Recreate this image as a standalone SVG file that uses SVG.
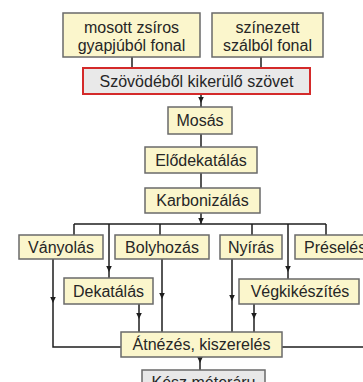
<svg xmlns="http://www.w3.org/2000/svg" xmlns:xlink="http://www.w3.org/1999/xlink" width="363" height="382" viewBox="0 0 363 382">
<style>
.box{fill:#fbf6cc;stroke:#6a6a6a;stroke-width:1.5}
.grey{fill:#e8e8e8;stroke:#6a6a6a;stroke-width:1.5}
.red{fill:#e9e9e9;stroke:#d42a2a;stroke-width:2}
text{font-family:"Liberation Sans",Arial,sans-serif;font-size:16px;fill:#262626;text-anchor:middle}
.con line,.con polyline{stroke:#1e1e1e;stroke-width:1.5;fill:none}
.ah{fill:#1e1e1e}
</style>
<defs>
<path id="ah" d="M-2.8,-6 L2.8,-6 L0,0 Z"/>
</defs>
<rect width="363" height="382" fill="#ffffff"/>
<g class="con" id="connectors">
<line x1="132" y1="57" x2="132" y2="68"/>
<line x1="261" y1="57" x2="261" y2="68"/>
<line x1="201" y1="94" x2="201" y2="107"/>
<line x1="201" y1="134" x2="201" y2="147"/>
<line x1="201" y1="173" x2="201" y2="188"/>
<line x1="201" y1="213" x2="201" y2="224"/>
<line x1="74" y1="224" x2="326" y2="224"/>
<line x1="74" y1="224" x2="74" y2="235"/>
<line x1="109" y1="224" x2="109" y2="278"/>
<line x1="160" y1="224" x2="160" y2="235"/>
<line x1="252" y1="224" x2="252" y2="235"/>
<line x1="288" y1="224" x2="288" y2="279"/>
<line x1="326" y1="224" x2="326" y2="235"/>
<polyline points="53,259 53,347 121,347"/>
<line x1="162" y1="259" x2="162" y2="332"/>
<line x1="139" y1="304" x2="139" y2="332"/>
<line x1="232" y1="259" x2="232" y2="332"/>
<line x1="254" y1="304" x2="254" y2="332"/>
<line x1="282" y1="347" x2="363" y2="347"/>
<line x1="200" y1="357" x2="200" y2="370"/>
<use xlink:href="#ah" class="ah" x="201" y="103"/>
<use xlink:href="#ah" class="ah" x="201" y="224"/>
<use xlink:href="#ah" class="ah" x="109" y="272"/>
<use xlink:href="#ah" class="ah" x="288" y="272"/>
<use xlink:href="#ah" class="ah" x="53" y="303"/>
<use xlink:href="#ah" class="ah" x="162" y="299"/>
<use xlink:href="#ah" class="ah" x="232" y="301"/>
<use xlink:href="#ah" class="ah" x="139" y="319"/>
<use xlink:href="#ah" class="ah" x="254" y="319"/>
<use xlink:href="#ah" class="ah" x="200" y="363"/>
</g>
<g id="n-fonal1"><rect class="box" x="63" y="13" width="137" height="44"/><text x="131.5" y="33">mosott zsíros</text><text x="131.5" y="51">gyapjúból fonal</text></g>
<g id="n-fonal2"><rect class="box" x="212" y="13" width="111" height="44"/><text x="267.5" y="33">színezett</text><text x="267.5" y="51">szálból fonal</text></g>
<g id="n-szovet"><rect class="red" x="83" y="68" width="227" height="26"/><text x="196.5" y="86.5">Szövödéből kikerülő szövet</text></g>
<g id="n-mosas"><rect class="box" x="168" y="107" width="64" height="27"/><text x="200" y="126">Mosás</text></g>
<g id="n-elodekatalas"><rect class="box" x="145" y="147" width="112" height="26"/><text x="201" y="165.5">Elődekatálás</text></g>
<g id="n-karbonizalas"><rect class="box" x="145" y="188" width="115" height="25"/><text x="202.5" y="206">Karbonizálás</text></g>
<g id="n-vanyolas"><rect class="box" x="19" y="235" width="84" height="24"/><text x="61" y="252.5">Ványolás</text></g>
<g id="n-bolyhozas"><rect class="box" x="115" y="235" width="94" height="24"/><text x="162" y="252.5">Bolyhozás</text></g>
<g id="n-nyiras"><rect class="box" x="220" y="235" width="62" height="24"/><text x="251" y="252.5">Nyírás</text></g>
<g id="n-preseles"><rect class="box" x="295" y="235" width="80" height="24"/><text x="304" y="252.5" style="text-anchor:start">Préselés</text></g>
<g id="n-dekatalas"><rect class="box" x="64" y="278" width="89" height="26"/><text x="108.5" y="296.5">Dekatálás</text></g>
<g id="n-vegkikeszites"><rect class="box" x="239" y="279" width="120" height="25"/><text x="300" y="297">Végkikészítés</text></g>
<g id="n-atnezes"><rect class="box" x="121" y="332" width="161" height="25"/><text x="201.5" y="350">Átnézés, kiszerelés</text></g>
<g id="n-kesz"><rect class="grey" x="142" y="370" width="123" height="26"/><text x="203.5" y="388">Kész méteráru</text></g>
</svg>
